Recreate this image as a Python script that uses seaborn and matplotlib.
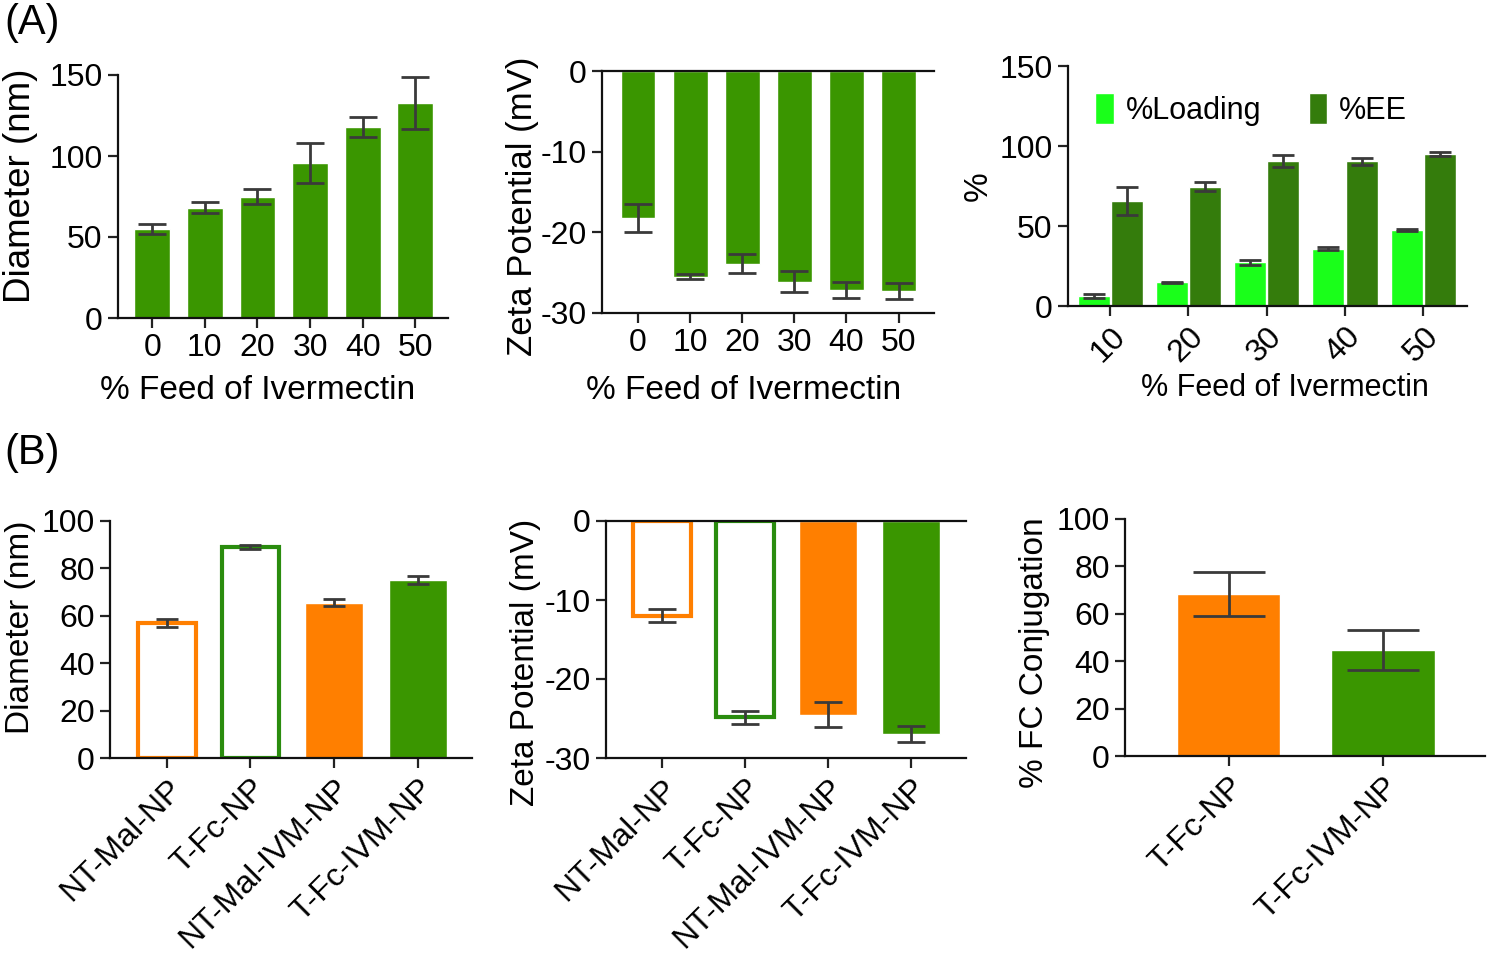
import numpy as np
import pandas as pd
import matplotlib
matplotlib.use("Agg")
import matplotlib.pyplot as plt
import seaborn as sns

# ---- data ----
feed = ["0", "10", "20", "30", "40", "50"]
diam_a = [55.1, 68.2, 75.0, 95.7, 117.8, 132.8]
diam_a_err = [3.0, 3.5, 4.4, 12.4, 6.2, 15.9]
zeta_a = [-18.2, -25.5, -23.9, -26.1, -27.2, -27.3]
zeta_a_err = [1.75, 0.3, 1.2, 1.25, 1.0, 1.0]

feed_load = ["10", "20", "30", "40", "50"]
loading = [6.2, 14.8, 27.3, 35.8, 47.5]
loading_err = [1.2, 0.5, 1.5, 1.0, 0.5]
ee = [65.6, 74.6, 90.4, 90.4, 95.2]
ee_err = [8.5, 2.6, 3.8, 2.0, 1.2]

np_groups = ["NT-Mal-NP", "T-Fc-NP", "NT-Mal-IVM-NP", "T-Fc-IVM-NP"]
diam_b = [57.0, 89.0, 65.6, 75.1]
diam_b_err = [1.6, 0.7, 1.5, 1.6]
zeta_b = [-12.0, -24.85, -24.5, -27.0]
zeta_b_err = [0.8, 0.8, 1.6, 1.0]

fc_groups = ["T-Fc-NP", "T-Fc-IVM-NP"]
fc_conj = [68.3, 44.7]
fc_conj_err = [9.3, 8.4]

# colours
green = "#3a9600"
green_line = "#2a8c0e"
orange = "#ff7f00"
light_green = "#1aff1a"
dark_green = "#347c0c"
err_col = "#3a3a3a"

sns.set_style("ticks")
plt.rcParams["font.family"] = ["Liberation Sans", "DejaVu Sans"]
plt.rcParams["axes.linewidth"] = 1.6
plt.rcParams["axes.unicode_minus"] = False
plt.rcParams["text.color"] = "black"
plt.rcParams["axes.labelcolor"] = "black"
plt.rcParams["xtick.color"] = "black"
plt.rcParams["ytick.color"] = "black"
plt.rcParams["axes.edgecolor"] = "#111111"

TICK = 23
LAB = 24

fig = plt.figure(figsize=(14.91, 9.58), dpi=100)

def px_axes(l, r, t, b):
    W, H = 1491, 958
    return fig.add_axes([l / W, 1 - b / H, (r - l) / W, (b - t) / H])

def style(ax):
    ax.tick_params(axis="both", labelsize=TICK, length=7, width=1.6, direction="out", color="#222222", pad=4)
    ax.set_xlabel("")
    ax.set_ylabel("")

def errs(ax, x, y, e, cap=10):
    ax.errorbar(x, y, yerr=e, fmt="none", ecolor=err_col, elinewidth=2, capsize=cap, capthick=2, zorder=5)

# (A) diameter
ax1 = px_axes(118, 448, 75, 318)
df1 = pd.DataFrame({"feed": feed, "val": diam_a})
sns.barplot(data=df1, x="feed", y="val", color=green, width=0.68, saturation=1, ax=ax1, errorbar=None)
errs(ax1, range(len(feed)), diam_a, diam_a_err)
ax1.set_ylim(0, 150)
ax1.set_yticks([0, 50, 100, 150])
ax1.set_xlim(-0.65, 5.62)
style(ax1)
ax1.set_ylabel("Diameter (nm)", fontsize=26.5)
ax1.set_xlabel("% Feed of Ivermectin", fontsize=LAB)
ax1.xaxis.set_label_coords(0.424, -0.235)
ax1.yaxis.set_label_coords(-0.242, 0.543)
sns.despine(ax=ax1)

# (A) zeta
ax2 = px_axes(602, 934, 71, 313)
df2 = pd.DataFrame({"feed": feed, "val": zeta_a})
sns.barplot(data=df2, x="feed", y="val", color=green, width=0.67, saturation=1, ax=ax2, errorbar=None)
errs(ax2, range(len(feed)), zeta_a, zeta_a_err)
ax2.set_ylim(-30, 0)
ax2.set_yticks([0, -10, -20, -30])
ax2.set_xlim(-0.69, 5.68)
style(ax2)
ax2.set_ylabel("Zeta Potential (mV)", fontsize=25)
ax2.set_xlabel("% Feed of Ivermectin", fontsize=LAB)
ax2.xaxis.set_label_coords(0.425, -0.255)
ax2.yaxis.set_label_coords(-0.19, 0.44)
sns.despine(ax=ax2, top=False)

# (A) loading / EE
ax3 = px_axes(1068, 1467, 66, 306)
df3 = pd.DataFrame({
    "feed": feed_load * 2,
    "val": loading + ee,
    "kind": ["%Loading"] * len(feed_load) + ["%EE"] * len(feed_load),
})
sns.barplot(data=df3, x="feed", y="val", hue="kind", palette=[light_green, dark_green],
            width=0.85, gap=0.04, saturation=1, ax=ax3, errorbar=None)
off = 0.85 / 4
errs(ax3, np.arange(len(feed_load)) - off, loading, loading_err, cap=8)
errs(ax3, np.arange(len(feed_load)) + off, ee, ee_err, cap=8)
ax3.set_ylim(0, 150)
ax3.set_yticks([0, 50, 100, 150])
ax3.set_xlim(-0.54, 4.56)
style(ax3)
plt.setp(ax3.get_xticklabels(), rotation=45, ha="right", rotation_mode="anchor")
ax3.set_ylabel("%", fontsize=LAB)
ax3.set_xlabel("% Feed of Ivermectin", fontsize=22)
ax3.xaxis.set_label_coords(0.544, -0.28)
ax3.legend(loc="center left", ncol=2, frameon=False, fontsize=22, handlelength=0.6,
           handleheight=1.2, handletextpad=0.4, columnspacing=1.55, borderpad=0,
           bbox_to_anchor=(0.03, 0.82))
sns.despine(ax=ax3)

# (B) diameter
cols_b = [orange, green_line, orange, green]
ax4 = px_axes(110, 472, 521, 758)
df4 = pd.DataFrame({"grp": np_groups, "val": diam_b})
sns.barplot(data=df4, x="grp", y="val", hue="grp", palette=cols_b, width=0.69,
            saturation=1, ax=ax4, errorbar=None, legend=False)
errs(ax4, range(len(np_groups)), diam_b, diam_b_err, cap=8)
ax4.set_ylim(0, 100)
ax4.set_yticks(range(0, 101, 20))
ax4.set_xlim(-0.68, 3.65)
style(ax4)
ax4.set_ylabel("Diameter (nm)", fontsize=LAB)
ax4.yaxis.set_label_coords(-0.205, 0.55)
plt.setp(ax4.get_xticklabels(), rotation=45, ha="right", rotation_mode="anchor")
sns.despine(ax=ax4)

# (B) zeta
ax5 = px_axes(606, 966, 521, 758)
df5 = pd.DataFrame({"grp": np_groups, "val": zeta_b})
sns.barplot(data=df5, x="grp", y="val", hue="grp", palette=cols_b, width=0.7,
            saturation=1, ax=ax5, errorbar=None, legend=False)
errs(ax5, range(len(np_groups)), zeta_b, zeta_b_err, cap=10)
ax5.set_ylim(-30, 0)
ax5.set_yticks([0, -10, -20, -30])
ax5.set_xlim(-0.67, 3.66)
style(ax5)
ax5.set_ylabel("Zeta Potential (mV)", fontsize=LAB)
ax5.yaxis.set_label_coords(-0.18, 0.405)
plt.setp(ax5.get_xticklabels(), rotation=45, ha="right", rotation_mode="anchor")
sns.despine(ax=ax5, top=False)

# open bars for the first two groups
for ax in (ax4, ax5):
    for i, p in enumerate(ax.patches[:len(np_groups)]):
        if i < 2:
            p.set_facecolor("white")
            p.set_edgecolor(cols_b[i])
            p.set_linewidth(3)

# (B) FC conjugation
ax6 = px_axes(1125, 1485, 519, 756)
df6 = pd.DataFrame({"grp": fc_groups, "val": fc_conj})
sns.barplot(data=df6, x="grp", y="val", hue="grp", palette=[orange, green], width=0.67,
            saturation=1, ax=ax6, errorbar=None, legend=False)
errs(ax6, range(len(fc_groups)), fc_conj, fc_conj_err, cap=26)
ax6.set_ylim(0, 100)
ax6.set_yticks(range(0, 101, 20))
ax6.set_xlim(-0.67, 1.66)
style(ax6)
ax6.set_ylabel("% FC Conjugation", fontsize=LAB)
ax6.yaxis.set_label_coords(-0.208, 0.435)
plt.setp(ax6.get_xticklabels(), rotation=45, ha="right", rotation_mode="anchor")
sns.despine(ax=ax6)

fig.text(0.003, 0.997, "(A)", fontsize=30, va="top", ha="left")
fig.text(0.003, 0.548, "(B)", fontsize=30, va="top", ha="left")

fig.savefig("out.png", dpi=100)
